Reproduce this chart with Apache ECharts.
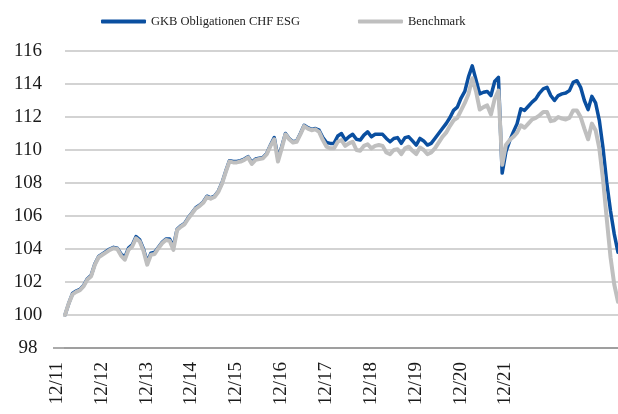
<!DOCTYPE html>
<html>
<head>
<meta charset="utf-8">
<script src="https://cdn.jsdelivr.net/npm/echarts@6/dist/echarts.min.js"></script>
<style>
  html, body { margin: 0; padding: 0; background: #ffffff; }
  #chart { width: 618px; height: 414px; }
</style>
</head>
<body>
<div id="chart"></div>
<script>
// Year-end tick labels (one every 12 monthly observations)
const tickLabels = ['12/11', '12/12', '12/13', '12/14', '12/15', '12/16', '12/17', '12/18', '12/19', '12/20', '12/21'];

// Indexed performance, start = 100
const fundValues = [
  100.0, 100.7, 101.3, 101.45, 101.55, 101.8, 102.2, 102.4, 103.1, 103.55,
  103.7, 103.85, 104.0, 104.1, 104.05, 103.7, 103.5, 104.05, 104.25, 104.75,
  104.55, 104.0, 103.2, 103.75, 103.8, 104.1, 104.4, 104.6, 104.6, 104.15,
  105.2, 105.4, 105.55, 105.9, 106.2, 106.5, 106.65, 106.85, 107.2, 107.1,
  107.2, 107.5, 108.0, 108.7, 109.35, 109.3, 109.3, 109.35, 109.45, 109.6,
  109.25, 109.45, 109.5, 109.55, 109.8, 110.3, 110.75, 109.5, 110.2, 111.0,
  110.7, 110.5, 110.55, 111.0, 111.5, 111.35, 111.25, 111.3, 111.2, 110.75,
  110.45, 110.4, 110.4, 110.85, 111.0, 110.6, 110.8, 110.95, 110.65, 110.6,
  110.9, 111.1, 110.8, 110.95, 110.95, 110.95, 110.7, 110.5, 110.7, 110.75,
  110.4, 110.75, 110.8, 110.55, 110.3, 110.7, 110.55, 110.3, 110.4, 110.7,
  111.0, 111.3, 111.6, 111.95, 112.4, 112.6, 113.15, 113.55, 114.45, 115.1,
  114.25, 113.4, 113.5, 113.55, 113.3, 114.15, 114.4, 108.6, 109.9, 110.55,
  111.1, 111.6, 112.5, 112.4, 112.65, 112.9, 113.1, 113.45, 113.7, 113.8,
  113.3, 113.0, 113.3, 113.4, 113.45, 113.6, 114.1, 114.2, 113.8, 113.0,
  112.45, 113.25, 112.85, 111.8, 110.1, 108.0, 106.3, 104.9, 103.8
];

const benchmarkValues = [
  100.0, 100.7, 101.25, 101.4, 101.5, 101.75, 102.15, 102.35, 103.05, 103.5,
  103.65, 103.8, 103.95, 104.05, 104.0, 103.6, 103.35, 103.95, 104.15, 104.65,
  104.45, 103.9, 103.05, 103.65, 103.7, 104.05, 104.35, 104.55, 104.5, 103.95,
  105.15, 105.35, 105.5, 105.85, 106.15, 106.45, 106.6, 106.8, 107.15, 107.05,
  107.15, 107.45, 107.95, 108.65, 109.3, 109.25, 109.25, 109.3, 109.4, 109.55,
  109.15, 109.4, 109.45, 109.5, 109.75, 110.25, 110.65, 109.3, 110.1, 110.95,
  110.65, 110.45, 110.5, 110.95, 111.45, 111.3, 111.2, 111.25, 111.1, 110.6,
  110.2, 110.1, 110.1, 110.5, 110.6, 110.25, 110.4, 110.5, 110.0, 109.95,
  110.25, 110.35, 110.1, 110.25, 110.3, 110.25, 109.85, 109.75, 110.0, 110.05,
  109.75, 110.1, 110.2, 109.95, 109.75, 110.15, 110.0, 109.75, 109.85, 110.1,
  110.45, 110.8, 111.05, 111.45, 111.8, 111.95, 112.4, 112.85, 113.4, 114.35,
  113.55, 112.45, 112.6, 112.7, 112.15, 113.1, 113.6, 109.1, 110.3, 110.6,
  110.8, 111.05, 111.5, 111.35, 111.6, 111.85, 111.95, 112.1, 112.3, 112.3,
  111.75, 111.8, 112.0, 111.9, 111.85, 111.95, 112.4, 112.4, 112.0, 111.3,
  110.65, 111.6, 111.2, 110.1, 108.2, 105.8, 103.5, 101.85, 100.8
];

const seriesNames = ['GKB Obligationen CHF ESG', 'Benchmark'];

// One category per observation; only year-end points carry a label
const categories = fundValues.map((_, i) => (i % 12 === 0 && tickLabels[i / 12]) ? tickLabels[i / 12] : '');

const FONT = '"Liberation Serif", "DejaVu Serif", serif';

const chart = echarts.init(document.getElementById('chart'), null, { renderer: 'canvas' });

chart.setOption({
  animation: false,
  backgroundColor: '#ffffff',
  legend: {
    data: seriesNames,
    left: 96,
    top: 10,
    itemWidth: 45,
    itemHeight: 4,
    itemGap: 58,
    icon: 'roundRect',
    textStyle: { fontFamily: FONT, fontSize: 12.5, color: '#222222' }
  },
  grid: { left: 65, right: 0, top: 51, bottom: 66, containLabel: false },
  xAxis: {
    type: 'category',
    data: categories,
    boundaryGap: false,
    axisLine: { show: true, lineStyle: { color: '#8f8f8f', width: 1.5 } },
    axisTick: { show: false },
    splitLine: { show: false },
    axisLabel: {
      interval: 11,
      rotate: 90,
      margin: 14,
      verticalAlign: 'bottom',
      lineHeight: 16,
      fontFamily: FONT,
      fontSize: 19,
      color: '#1a1a1a'
    }
  },
  yAxis: {
    type: 'value',
    min: 98,
    max: 116,
    interval: 2,
    axisLine: { show: false },
    axisTick: { show: false },
    splitLine: { show: true, lineStyle: { color: '#c4c4c4', width: 1.5 } },
    axisLabel: {
      align: 'center',
      margin: 37,
      fontFamily: FONT,
      fontSize: 19,
      color: '#1a1a1a'
    }
  },
  series: [
    {
      name: seriesNames[0],
      type: 'line',
      data: fundValues,
      showSymbol: false,
      symbol: 'none',
      smooth: false,
      color: '#0a4fa0',
      lineStyle: { color: '#0a4fa0', width: 3.5, join: 'round', cap: 'round' },
      z: 2
    },
    {
      name: seriesNames[1],
      type: 'line',
      data: benchmarkValues,
      showSymbol: false,
      symbol: 'none',
      smooth: false,
      color: '#bfbfbf',
      lineStyle: { color: '#bfbfbf', width: 4, join: 'round', cap: 'round' },
      z: 3
    }
  ]
});

// The baseline at 98 runs a little past the left edge of the plot
const yBase = chart.convertToPixel({ yAxisIndex: 0 }, 98);
const xStart = chart.convertToPixel({ xAxisIndex: 0 }, 0);
chart.setOption({
  graphic: [{
    type: 'line',
    shape: { x1: xStart - 12, y1: yBase, x2: xStart, y2: yBase },
    style: { stroke: '#8f8f8f', lineWidth: 1.5 },
    silent: true
  }]
});
</script>
</body>
</html>
